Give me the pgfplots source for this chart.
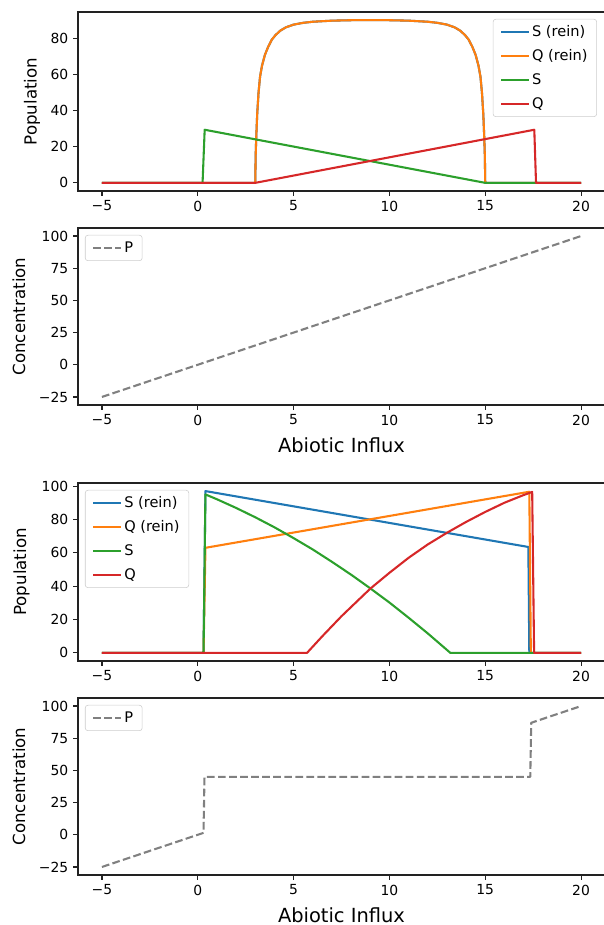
\documentclass[border=0pt]{standalone}
\usepackage{pgfplots}
\pgfplotsset{compat=1.18}
\usepackage{fontspec}
\setmainfont{DejaVu Sans}
\definecolor{tabblue}{HTML}{1F77B4}
\definecolor{taborange}{HTML}{FF7F0E}
\definecolor{tabgreen}{HTML}{2CA02C}
\definecolor{tabred}{HTML}{D62728}
\definecolor{mplgray}{HTML}{808080}
\definecolor{legedge}{HTML}{CCCCCC}
\definecolor{spine}{HTML}{222222}
\pgfplotsset{
  mpl/.style={
    scale only axis, width=379.44pt, anchor=south west,
    xmin=-6.25, xmax=21.25,
    /pgf/number format/assume math mode=true,
    axis line style={line width=0.8pt, spine},
    tick align=outside, tick pos=left,
    major tick length=3.5pt,
    every tick/.style={spine, line width=0.8pt},
    xtick={-5,0,5,10,15,20}, xticklabels={−5,0,5,10,15,20},
    tick label style={font=\fontsize{10}{12}\selectfont},
    ylabel style={font=\fontsize{12}{14}\selectfont, anchor=center},
    xlabel style={font=\fontsize{14}{17}\selectfont, anchor=center, at={(axis description cs:0.5,-0.226)}},
    legend style={font=\fontsize{10.5}{12}\selectfont, draw=legedge, rounded corners=2pt, fill=white,
      inner xsep=5pt, inner ysep=3pt, row sep=4.6pt, nodes={inner sep=1.6pt},
      /tikz/every even column/.append style={column sep=6.5pt}},
    legend cell align=left,
    legend image code/.code={\draw[#1] (0pt,0pt) -- (20pt,0pt);},
    every axis plot/.append style={line width=1.5pt, line join=round},
  },
  legNE/.style={legend style={at={(1,1)}, anchor=north east, xshift=-5.8pt, yshift=-5pt}},
  legNW/.style={legend style={at={(0,1)}, anchor=north west, xshift=5pt, yshift=-5pt}},
  pdash/.style={mplgray, dash pattern=on 5.55pt off 2.4pt},
}
\begin{document}
\begin{tikzpicture}
\useasboundingbox (0,0) rectangle (434.16pt,666pt);
% Panel 1
\begin{axis}[mpl, legNE, at={(56.16pt,528.48pt)}, height=128.88pt,
  ymin=-4.52, ymax=94.92, ytick={0,20,40,60,80}, yticklabels={0,20,40,60,80},
  ylabel={Population}, ylabel style={at={(axis description cs:-0.087,0.5)}}]
\addplot[tabblue] coordinates {(-5,0) (3.0,0) (3.02,15) (3.05,25) (3.1,38) (3.17,50) (3.25,59) (3.35,65) (3.5,71) (3.67,75.5) (3.86,79.5) (4.05,82) (4.3,84.5) (4.6,86.4) (5.0,87.9) (5.5,88.9) (6,89.5) (7,90.1) (8,90.35) (9,90.4) (10,90.35) (11,90.1) (12,89.5) (12.5,88.9) (13,87.9) (13.4,86.4) (13.7,84.5) (13.95,82) (14.14,79.5) (14.33,75.5) (14.5,71) (14.65,65) (14.75,59) (14.83,50) (14.9,38) (14.95,25) (14.98,15) (15,0) (20,0)};
\addlegendentry{S (rein)}
\addplot[taborange] coordinates {(-5,0) (3.0,0) (3.02,15) (3.05,25) (3.1,38) (3.17,50) (3.25,59) (3.35,65) (3.5,71) (3.67,75.5) (3.86,79.5) (4.05,82) (4.3,84.5) (4.6,86.4) (5.0,87.9) (5.5,88.9) (6,89.5) (7,90.1) (8,90.35) (9,90.4) (10,90.35) (11,90.1) (12,89.5) (12.5,88.9) (13,87.9) (13.4,86.4) (13.7,84.5) (13.95,82) (14.14,79.5) (14.33,75.5) (14.5,71) (14.65,65) (14.75,59) (14.83,50) (14.9,38) (14.95,25) (14.98,15) (15,0) (20,0)};
\addlegendentry{Q (rein)}
\addplot[tabgreen] coordinates {(-5,0) (0.25,0) (0.36,29.5) (15,0) (20,0)};
\addlegendentry{S}
\addplot[tabred] coordinates {(-5,0) (3,0) (17.56,29.5) (17.65,0) (20,0)};
\addlegendentry{Q}
\end{axis}
% Panel 2
\begin{axis}[mpl, legNW, at={(56.16pt,374.4pt)}, height=127.44pt,
  ymin=-31.25, ymax=106.25, ytick={-25,0,25,50,75,100}, yticklabels={−25,0,25,50,75,100},
  ylabel={Concentration}, ylabel style={at={(axis description cs:-0.112,0.5)}},
  xlabel={Abiotic Influx}]
\addplot[pdash] coordinates {(-5,-25) (20,100)};
\addlegendentry{P}
\end{axis}
% Panel 3
\begin{axis}[mpl, legNW, at={(56.16pt,190.08pt)}, height=128.16pt,
  ymin=-4.85, ymax=101.85, ytick={0,20,40,60,80,100}, yticklabels={0,20,40,60,80,100},
  ylabel={Population}, ylabel style={at={(axis description cs:-0.107,0.5)}}]
\addplot[tabblue] coordinates {(-5,0) (0.3,0) (0.4,97) (17.25,63.5) (17.3,0) (20,0)};
\addlegendentry{S (rein)}
\addplot[taborange] coordinates {(-5,0) (0.3,0) (0.4,63) (17.3,96.6) (17.38,0) (20,0)};
\addlegendentry{Q (rein)}
\addplot[tabgreen] coordinates {(-5,0) (0.3,0) (0.4,95) (1,92.1) (2,86.9) (3,81.3) (4,75.3) (5,68.8) (6,62.0) (7,54.6) (8,46.9) (9,38.7) (10,30.2) (11,21.1) (12,11.7) (13,1.8) (13.18,0) (20,0)};
\addlegendentry{S}
\addplot[tabred] coordinates {(-5,0) (5.7,0) (6.5,10) (7.5,22) (8.5,33) (9,38.5) (10,48) (11,57) (12,65) (13,72) (14,78.5) (15,84.5) (16,90) (17,94.6) (17.45,96.5) (17.55,0) (20,0)};
\addlegendentry{Q}
\end{axis}
% Panel 4
\begin{axis}[mpl, legNW, at={(56.16pt,36pt)}, height=127.44pt,
  ymin=-31.25, ymax=106.25, ytick={-25,0,25,50,75,100}, yticklabels={−25,0,25,50,75,100},
  ylabel={Concentration}, ylabel style={at={(axis description cs:-0.112,0.5)}},
  xlabel={Abiotic Influx}]
\addplot[pdash] coordinates {(-5,-25) (0.3,1.5) (0.35,45) (17.35,45) (17.4,87) (20,100)};
\addlegendentry{P}
\end{axis}
\end{tikzpicture}
\end{document}
